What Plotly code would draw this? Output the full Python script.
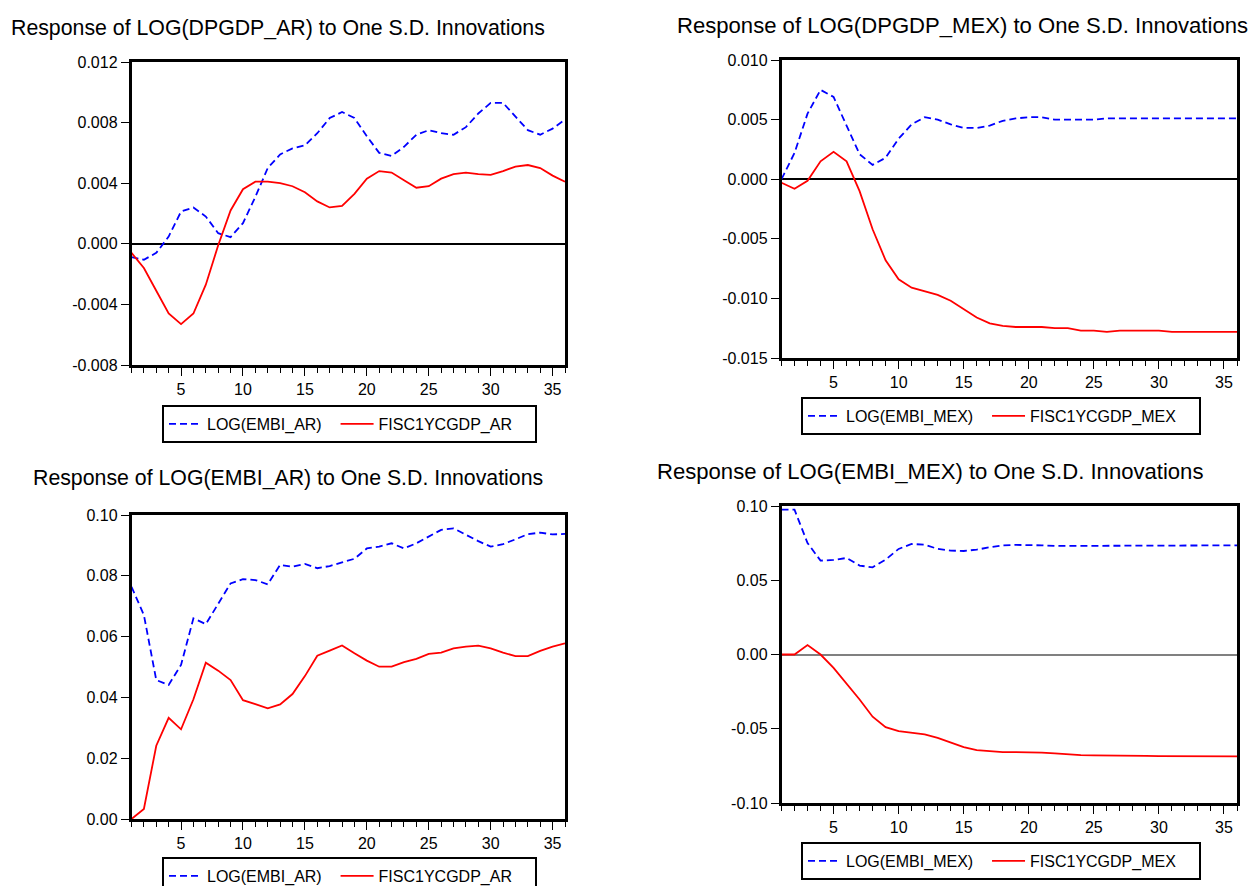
import plotly.graph_objects as go

periods = list(range(1, 37))

# Response of LOG(DPGDP_AR)
dp_ar_embi = [-0.00088, -0.00105, -0.0006, 0.00048, 0.00213, 0.0024, 0.0018, 0.0007, 0.00044, 0.00136,
              0.0031, 0.0050, 0.0059, 0.0063, 0.0065, 0.0073, 0.0083, 0.0087, 0.0083, 0.0071,
              0.0060, 0.0058, 0.0064, 0.0072, 0.0075, 0.0073, 0.0072, 0.0077, 0.0086, 0.0093,
              0.0093, 0.0084, 0.0075, 0.0072, 0.0076, 0.0082]
dp_ar_fisc = [-0.0006, -0.0016, -0.0031, -0.0046, -0.0053, -0.0046, -0.0027, -0.0001, 0.0022, 0.0036,
              0.0041, 0.0041, 0.0040, 0.0038, 0.0034, 0.0028, 0.0024, 0.0025, 0.0033, 0.0043,
              0.0048, 0.0047, 0.0042, 0.0037, 0.0038, 0.0043, 0.0046, 0.0047, 0.0046, 0.00455,
              0.0048, 0.0051, 0.0052, 0.0050, 0.0045, 0.0041]

# Response of LOG(DPGDP_MEX)
dp_mex_embi = [0.0000, 0.0022, 0.0055, 0.0075, 0.0069, 0.0045, 0.0021, 0.0012, 0.0018, 0.0034,
               0.0046, 0.0052, 0.0050, 0.0046, 0.0043, 0.0043, 0.0045, 0.0049, 0.0051, 0.0052,
               0.0052, 0.0050, 0.0050, 0.0050, 0.0050, 0.0051, 0.0051, 0.0051, 0.0051, 0.0051,
               0.0051, 0.0051, 0.0051, 0.0051, 0.0051, 0.0051]
dp_mex_fisc = [-0.0003, -0.0008, -0.00014, 0.0015, 0.0023, 0.0015, -0.0010, -0.0042, -0.0068, -0.0084,
               -0.0091, -0.0094, -0.0097, -0.0102, -0.0109, -0.0116, -0.0121, -0.0123, -0.0124, -0.0124,
               -0.0124, -0.0125, -0.0125, -0.0127, -0.0127, -0.0128, -0.0127, -0.0127, -0.0127, -0.0127,
               -0.0128, -0.0128, -0.0128, -0.0128, -0.0128, -0.0128]

# Response of LOG(EMBI_AR)
embi_ar_embi = [0.0764, 0.0671, 0.0457, 0.0441, 0.0507, 0.0660, 0.0641, 0.0707, 0.0775, 0.0789,
                0.0786, 0.0772, 0.0836, 0.0830, 0.0839, 0.0825, 0.0832, 0.0844, 0.0856, 0.0890,
                0.0896, 0.0907, 0.0890, 0.0907, 0.0929, 0.0951, 0.0956, 0.0934, 0.0914, 0.0896,
                0.0904, 0.0920, 0.0937, 0.0942, 0.0936, 0.0938]
embi_ar_fisc = [0.0000, 0.0033, 0.0241, 0.0333, 0.0295, 0.0394, 0.0514, 0.0488, 0.0457, 0.0391,
                0.0378, 0.0364, 0.0377, 0.0411, 0.0470, 0.0537, 0.0554, 0.0571, 0.0545, 0.0521,
                0.0501, 0.0501, 0.0516, 0.0527, 0.0543, 0.0547, 0.0561, 0.0567, 0.0570, 0.0561,
                0.0547, 0.0536, 0.0536, 0.0553, 0.0567, 0.0578]

# Response of LOG(EMBI_MEX)
embi_mex_embi = [0.0975, 0.0975, 0.0751, 0.0632, 0.0637, 0.0650, 0.0599, 0.0587, 0.0639, 0.0711,
                 0.0744, 0.0740, 0.0711, 0.0700, 0.0697, 0.0706, 0.0722, 0.0735, 0.0738, 0.0738,
                 0.0735, 0.0731, 0.0731, 0.0733, 0.0735, 0.0735, 0.0735, 0.0735, 0.0735, 0.0735,
                 0.0735, 0.0735, 0.0735, 0.0735, 0.0735, 0.0735]
embi_mex_fisc = [0.0000, 0.0000, 0.0063, 0.0000, -0.0090, -0.0197, -0.0303, -0.0419, -0.0489, -0.0516,
                 -0.0529, -0.0538, -0.0561, -0.0594, -0.0623, -0.0644, -0.0652, -0.0657, -0.0657, -0.0657,
                 -0.0661, -0.0666, -0.0673, -0.0677, -0.0679, -0.0681, -0.0682, -0.0683, -0.0683, -0.0684,
                 -0.0685, -0.0685, -0.0686, -0.0686, -0.0686, -0.0686]

titles = ["Response of LOG(DPGDP_AR) to One S.D. Innovations",
          "Response of LOG(DPGDP_MEX) to One S.D. Innovations",
          "Response of LOG(EMBI_AR) to One S.D. Innovations",
          "Response of LOG(EMBI_MEX) to One S.D. Innovations"]
names_ar = ["LOG(EMBI_AR)", "FISC1YCGDP_AR"]
names_mex = ["LOG(EMBI_MEX)", "FISC1YCGDP_MEX"]

xtick_vals = [5, 10, 15, 20, 25, 30, 35]
yt_dp_ar = [-0.008, -0.004, 0.000, 0.004, 0.008, 0.012]
yt_dp_ar_txt = ["-0.008", "-0.004", "0.000", "0.004", "0.008", "0.012"]
yt_dp_mex = [-0.015, -0.010, -0.005, 0.000, 0.005, 0.010]
yt_dp_mex_txt = ["-0.015", "-0.010", "-0.005", "0.000", "0.005", "0.010"]
yt_embi_ar = [0.00, 0.02, 0.04, 0.06, 0.08, 0.10]
yt_embi_ar_txt = ["0.00", "0.02", "0.04", "0.06", "0.08", "0.10"]
yt_embi_mex = [-0.10, -0.05, 0.00, 0.05, 0.10]
yt_embi_mex_txt = ["-0.10", "-0.05", "0.00", "0.05", "0.10"]

W, H = 1251, 886
FONT = "Liberation Sans, Arial, sans-serif"
NB = "\u00a0"

panels = [
    dict(blue=dp_ar_embi, red=dp_ar_fisc, names=names_ar, yt=yt_dp_ar, ytt=yt_dp_ar_txt,
         yr=[-0.008, 0.012], box=(131.5, 565, 62, 365), zl="black",
         title_xy=(278, 28), tfs=21.3, leg=(162, 405)),
    dict(blue=dp_mex_embi, red=dp_mex_fisc, names=names_mex, yt=yt_dp_mex, ytt=yt_dp_mex_txt,
         yr=[-0.015, 0.010], box=(781.5, 1237, 60, 358), zl="black",
         title_xy=(962, 25), tfs=22.1, leg=(801, 397)),
    dict(blue=embi_ar_embi, red=embi_ar_fisc, names=names_ar, yt=yt_embi_ar, ytt=yt_embi_ar_txt,
         yr=[0.0, 0.10], box=(131.5, 565, 515, 819), zl=None,
         title_xy=(288, 478), tfs=21.3, leg=(162, 857)),
    dict(blue=embi_mex_embi, red=embi_mex_fisc, names=names_mex, yt=yt_embi_mex, ytt=yt_embi_mex_txt,
         yr=[-0.10, 0.10], box=(781.5, 1237, 506, 803), zl="#808080",
         title_xy=(930, 471), tfs=22.1, leg=(801, 842)),
]

fig = go.Figure()
layout = dict(width=W, height=H, margin=dict(l=0, r=0, t=0, b=0, pad=0, autoexpand=False),
              paper_bgcolor="white", plot_bgcolor="white",
              font=dict(family=FONT, color="black", size=16), annotations=[])

for i, p in enumerate(panels, start=1):
    sx = "" if i == 1 else str(i)
    leg = "legend" if i == 1 else "legend" + str(i)
    fig.add_trace(go.Scatter(x=periods, y=p["blue"], mode="lines", name=p["names"][0] + NB * 2,
                             line=dict(color="#0000FF", width=1.8, dash="7px,4px"),
                             xaxis="x" + sx, yaxis="y" + sx, legend=leg))
    fig.add_trace(go.Scatter(x=periods, y=p["red"], mode="lines", name=p["names"][1] + NB * 4,
                             line=dict(color="#FF0000", width=1.8),
                             xaxis="x" + sx, yaxis="y" + sx, legend=leg))
    x0, x1, y0, y1 = p["box"]
    layout["xaxis" + sx] = dict(domain=[x0 / W, x1 / W], anchor="y" + sx, range=[1, 36],
                                tickvals=xtick_vals, ticks="outside", ticklen=8, tickwidth=1.3,
                                tickcolor="black", showline=True, mirror=True, linecolor="black",
                                linewidth=2.5, showgrid=False, zeroline=False,
                                tickfont=dict(size=16),
                                minor=dict(dtick=1, tick0=1, ticks="outside", ticklen=5,
                                           tickcolor="black", tickwidth=1.3, showgrid=False))
    layout["yaxis" + sx] = dict(domain=[1 - y1 / H, 1 - y0 / H], anchor="x" + sx, range=p["yr"],
                                tickvals=p["yt"], ticktext=p["ytt"], ticks="outside", ticklen=8,
                                tickwidth=1.3, tickcolor="black", showline=True, mirror=True,
                                linecolor="black", linewidth=2.5, showgrid=False,
                                zeroline=p["zl"] is not None,
                                zerolinecolor=p["zl"] or "black", zerolinewidth=1.5,
                                tickfont=dict(size=16))
    lx, ly = p["leg"]
    layout[leg] = dict(orientation="h", x=lx / W, y=1 - ly / H, xanchor="left", yanchor="top",
                       bordercolor="black", borderwidth=2, bgcolor="white",
                       font=dict(size=16), itemwidth=33, tracegroupgap=0)
    tx, ty = p["title_xy"]
    layout["annotations"].append(dict(text=titles[i - 1], x=tx / W, y=1 - ty / H,
                                      xref="paper", yref="paper", xanchor="center",
                                      yanchor="middle", showarrow=False,
                                      font=dict(size=p["tfs"], family=FONT)))

fig.update_layout(**layout)
fig.write_html("out.html")
